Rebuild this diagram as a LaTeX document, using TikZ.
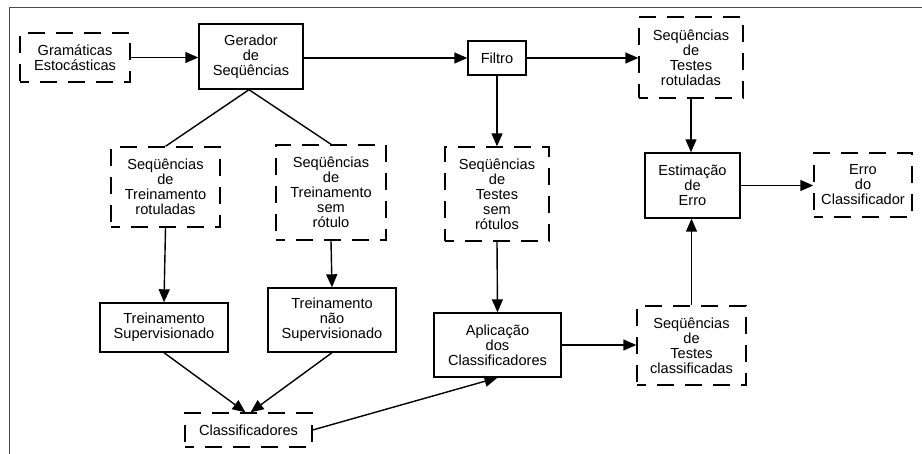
\documentclass[tikz,border=0pt]{standalone}
\usepackage{fontspec}
\setmainfont{Liberation Sans}
\usetikzlibrary{arrows.meta}
\begin{document}
\begin{tikzpicture}[x=1pt,y=-1pt,
  base/.style={rectangle,inner sep=0pt,align=center,font=\fontsize{14.6}{15}\selectfont},
  solidbox/.style={base,draw,line width=1.4pt},
  dashbox/.style={base,draw,line width=1.4pt,dash pattern=on 17pt off 11pt,dash phase=8pt},
  arr/.style={line width=1.4pt,-{Triangle[length=13pt,width=11pt]}},
  ln/.style={line width=1.4pt}]
\useasboundingbox (0,0) rectangle (922,454);
\draw[gray!60!black,line width=1.5pt] (9.5,454) -- (9.5,7.5) -- (922,7.5);
% nodes
\node[dashbox,minimum width=110pt,minimum height=49pt] (gram) at (75,57.5) {Gramáticas\\Estocásticas};
\node[solidbox,minimum width=104pt,minimum height=65pt] (ger) at (251,56.5) {Gerador\\de\\Seqüências};
\node[solidbox,minimum width=58pt,minimum height=34pt] (fil) at (497,58) {Filtro};
\node[dashbox,minimum width=104pt,minimum height=81pt] (trot) at (691,57.5) {Seqüências\\de\\Testes\\rotuladas};
\node[dashbox,minimum width=109pt,minimum height=80pt] (rot) at (165.5,187) {Seqüências\\de\\Treinamento\\rotuladas};
\node[dashbox,minimum width=110pt,minimum height=95pt] (srot) at (331,192.5) {Seqüências\\de\\Treinamento\\sem\\rótulo};
\node[dashbox,minimum width=104pt,minimum height=94pt] (tsem) at (497,194) {Seqüências\\de\\Testes\\sem\\rótulos};
\node[solidbox,minimum width=95pt,minimum height=65pt] (est) at (692.5,185.5) {Estimação\\de\\Erro};
\node[dashbox,minimum width=98pt,minimum height=64pt] (erro) at (863,185) {Erro\\do\\Classificador};
\node[solidbox,minimum width=128pt,minimum height=49pt] (tsup) at (164,327.5) {Treinamento\\Supervisionado};
\node[solidbox,minimum width=128pt,minimum height=64pt] (tnsup) at (332,320) {Treinamento\\não\\Supervisionado};
\node[solidbox,minimum width=127pt,minimum height=64pt] (apl) at (497.5,345) {Aplicação\\dos\\Classificadores};
\node[dashbox,minimum width=109pt,minimum height=79pt] (tcls) at (691.5,345.5) {Seqüências\\de\\Testes\\classificadas};
\node[dashbox,minimum width=127pt,minimum height=34pt] (cls) at (248.5,430) {Classificadores};
% connectors
\draw[arr] (gram.east) -- (gram.east -| ger.west);
\draw[arr] (ger.east |- fil.west) -- (fil.west);
\draw[arr] (fil.east) -- (fil.east -| trot.west);
\draw[arr] (fil.south) -- (fil.south |- tsem.north);
\coordinate (gb) at ([xshift=-2pt]ger.south);
\draw[ln] (gb) -- (rot.north);
\draw[ln] (gb) -- (srot.north);
\draw[arr] (rot.south) -- (tsup.north);
\draw[arr] (srot.south) -- (tnsup.north);
\draw[arr] (tsup.south) -- ([xshift=-3pt]cls.north);
\draw[arr] (tnsup.south) -- ([xshift=2pt]cls.north);
\draw[arr] (cls.east) -- (apl.south);
\draw[arr] (tsem.south) -- (apl.north);
\draw[arr] (apl.east) -- (apl.east -| tcls.west);
\draw[arr] (tcls.north) -- (tcls.north |- est.south);
\draw[arr] (trot.south) -- (trot.south |- est.north);
\draw[arr] (est.east) -- (est.east -| erro.west);
\end{tikzpicture}
\end{document}
